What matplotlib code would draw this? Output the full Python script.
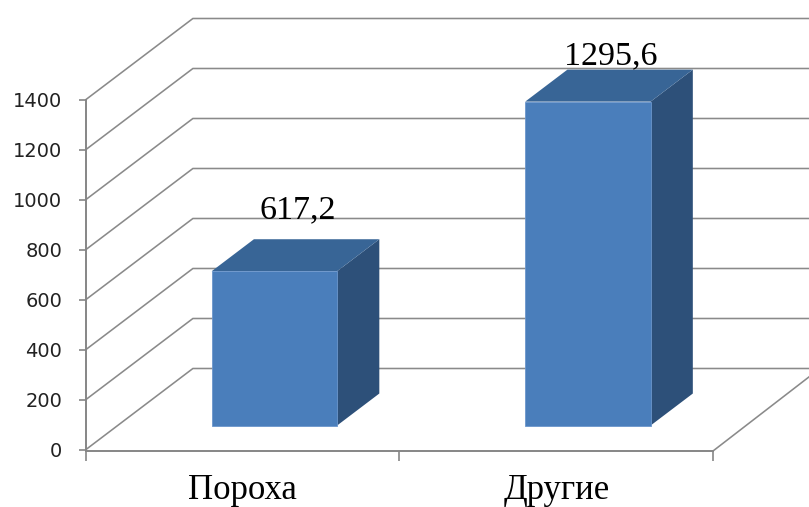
import numpy as np
import matplotlib.pyplot as plt
from matplotlib.patches import Polygon

# data
categories = ['Пороха', 'Другие']
values = [617.2, 1295.6]
y_ticks = [0, 200, 400, 600, 800, 1000, 1200, 1400]
label_offsets = [38, 27]  # points above the front top edge

# oblique 3d look: how far the back wall sits from the front (x in category units, y in value units)
DX, DY = 0.341, 324
bar_front, bar_depth = 0.296, 0.395
bar_w = 0.40

front_col = '#4a7ebb'
top_col = '#386596'
side_col = '#2d5079'
grid_col = '#8a8a8a'

fig = plt.figure(figsize=(8.09, 5.07), dpi=100)
ax = fig.add_axes([0, 0, 1, 1])
ax.set_xlim(-0.2743, 2.3062)
ax.set_ylim(-230, 1798)

# walls: gridlines run from the value axis back to the rear wall
xmax = ax.get_xlim()[1] + 0.1
for v in y_ticks:
    ax.plot([0, DX, xmax], [v, v + DY, v + DY], color=grid_col, lw=1.15, zorder=1,
            solid_joinstyle='miter')
# right edge of the floor
ax.plot([2, 2 + DX], [-6, DY], color=grid_col, lw=1.15, zorder=1)

# bars drawn as front / top / side faces
for i, v in enumerate(values):
    x0 = i + 0.5 - bar_w / 2 + bar_front * DX
    y0 = bar_front * DY
    top = y0 + v
    ddx, ddy = bar_depth * DX, bar_depth * DY
    side = Polygon([(x0 + bar_w, y0), (x0 + bar_w + ddx, y0 + ddy),
                    (x0 + bar_w + ddx, top + ddy), (x0 + bar_w, top)],
                   closed=True, fc=side_col, ec='none', zorder=3)
    lid = Polygon([(x0, top), (x0 + bar_w, top), (x0 + bar_w + ddx, top + ddy),
                   (x0 + ddx, top + ddy)],
                  closed=True, fc=top_col, ec='none', zorder=3)
    front = Polygon([(x0, y0), (x0 + bar_w, y0), (x0 + bar_w, top), (x0, top)],
                    closed=True, fc=front_col, ec='#6b96cc', lw=0.6, zorder=4)
    for p in (side, lid, front):
        ax.add_patch(p)
    txt = f'{v:.1f}'.replace('.', ',')
    ax.annotate(txt, xy=(x0 + bar_w / 2 + ddx / 2 + 0.006, top), xytext=(0, label_offsets[i]),
                textcoords='offset points', ha='center', va='baseline',
                fontsize=24.5, family='Liberation Serif', color='black', zorder=5)

# category names under the floor
for i, name in enumerate(categories):
    ax.annotate(name, xy=(i + 0.5, 0), xytext=(0, -35.5), textcoords='offset points',
                ha='center', va='baseline', fontsize=25, family='Liberation Serif',
                color='black')

# axes: value axis on the left, floor edge at the bottom
for s in ('top', 'right'):
    ax.spines[s].set_visible(False)
ax.spines['left'].set_position(('data', 0))
ax.spines['left'].set_bounds(0, 1400)
ax.spines['bottom'].set_position(('data', -6))
ax.spines['bottom'].set_bounds(0, 2)
for s in ('left', 'bottom'):
    ax.spines[s].set_color('#868686')
    ax.spines[s].set_linewidth(1.4)

ax.set_yticks(y_ticks)
ax.set_yticklabels([str(t) for t in y_ticks])
ax.tick_params(axis='y', direction='out', length=5, width=1.2, color='#868686',
               pad=12, labelsize=14, labelcolor='#222222')
ax.set_xticks([0, 1, 2])
ax.set_xticklabels([])
ax.tick_params(axis='x', direction='out', length=7, width=1.2, color='#868686')

plt.savefig('out.png', dpi=100)
